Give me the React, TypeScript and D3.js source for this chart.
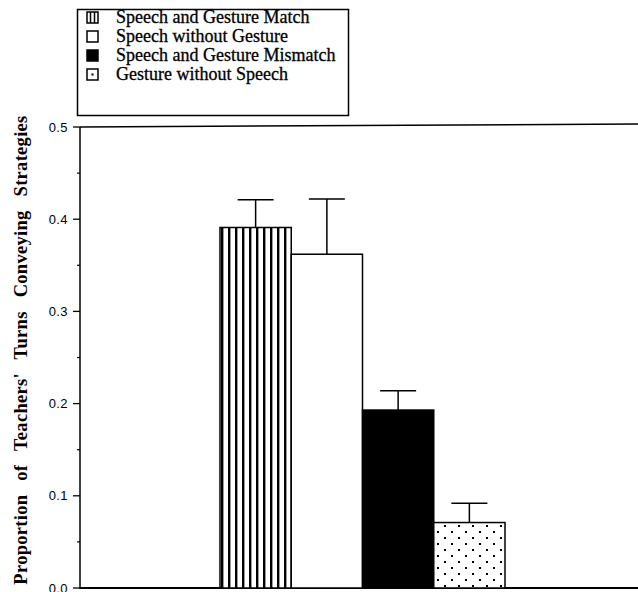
import React from "react";
import * as d3 from "d3";

const categories = [
  "Speech and Gesture Match",
  "Speech without Gesture",
  "Speech and Gesture Mismatch",
  "Gesture without Speech",
];
const values = [0.391, 0.362, 0.193, 0.071];
const errors = [0.03, 0.06, 0.021, 0.021];
const fills = ["url(#stripes)", "#fff", "#000", "url(#dots)"];
const yTicks = [0, 0.1, 0.2, 0.3, 0.4, 0.5];
const yMinorTicks = [0.05, 0.15, 0.25, 0.35, 0.45];
const yLabel = "Proportion of Teachers' Turns Conveying Strategies";

const W = 638;
const H = 592;

export default function App() {
  const y = d3.scaleLinear().domain([0, 0.5]).range([588, 127]);
  const x = d3.scaleBand<string>().domain(categories).range([220, 505]).padding(0);
  const axisX = 80;
  const fmt = d3.format(".1f");
  const serif = "'Liberation Serif', 'Times New Roman', serif";
  const sans = "'Liberation Sans', Arial, sans-serif";

  return (
    <svg
      width={W}
      height={H}
      style={{ position: "absolute", left: 0, top: 0, background: "#fff" }}
    >
      <defs>
        <pattern id="stripes" patternUnits="userSpaceOnUse" width={7} height={10} x={221}>
          <rect width={7} height={10} fill="#fff" />
          <rect x={0} width={2.4} height={10} fill="#000" />
        </pattern>
        <pattern id="dots" patternUnits="userSpaceOnUse" width={14} height={12} x={436} y={2}>
          <rect width={14} height={12} fill="#fff" />
          <rect x={1} y={1} width={2} height={2} fill="#000" />
          <rect x={8} y={7} width={2} height={2} fill="#000" />
        </pattern>
      </defs>

      {/* Legend */}
      <rect x={77.5} y={9.5} width={271} height={106} fill="#fff" stroke="#000" strokeWidth={1.5} />
      {categories.map((c, i) => {
        const base = 23 + i * 19;
        const cy = base - 5.5;
        return (
          <g key={c}>
            <rect
              x={87}
              y={cy - 5.5}
              width={11}
              height={11}
              fill={i === 2 ? "#000" : "#fff"}
              stroke="#000"
              strokeWidth={1.5}
            />
            {i === 0 && (
              <g stroke="#000" strokeWidth={1.5}>
                <line x1={90.5} x2={90.5} y1={cy - 5.5} y2={cy + 5.5} />
                <line x1={94.5} x2={94.5} y1={cy - 5.5} y2={cy + 5.5} />
              </g>
            )}
            {i === 3 && <rect x={91.5} y={cy - 1} width={2} height={2} fill="#000" />}
            <text
              x={116}
              y={base}
              fontFamily={serif}
              fontSize={18}
              fill="#000"
              stroke="#000"
              strokeWidth={0.3}
            >
              {c}
            </text>
          </g>
        );
      })}

      {/* Axes frame */}
      <line x1={axisX} x2={axisX} y1={y(0.5)} y2={y(0) + 1} stroke="#000" strokeWidth={1.5} />
      <line x1={axisX} x2={W} y1={y(0.5)} y2={y(0.5) - 3} stroke="#000" strokeWidth={1.5} />
      <line x1={axisX} x2={W} y1={y(0)} y2={y(0)} stroke="#000" strokeWidth={1.8} />

      {yTicks.map((t) => (
        <g key={t}>
          <line x1={axisX - 7} x2={axisX} y1={y(t)} y2={y(t)} stroke="#000" strokeWidth={1.3} />
          <text
            x={axisX - 12}
            y={y(t) + 4.5}
            textAnchor="end"
            fontFamily={sans}
            fontSize={13}
            letterSpacing={0.4}
            fill="#000"
          >
            {fmt(t)}
          </text>
        </g>
      ))}
      {yMinorTicks.map((t) => (
        <line key={t} x1={axisX - 3} x2={axisX} y1={y(t)} y2={y(t)} stroke="#000" strokeWidth={1.2} />
      ))}

      <text
        transform={`translate(27, 350) rotate(-90)`}
        textAnchor="middle"
        fontFamily={serif}
        fontWeight="bold"
        fontSize={18.5}
        letterSpacing={0.3}
        wordSpacing={9}
        fill="#000"
      >
        {yLabel}
      </text>

      {/* Bars */}
      {categories.map((c, i) => {
        const bx = x(c)!;
        const bw = x.bandwidth();
        const cx = bx + bw / 2;
        return (
          <g key={c}>
            <line x1={cx} x2={cx} y1={y(values[i])} y2={y(values[i] + errors[i])} stroke="#000" strokeWidth={1.5} />
            <line x1={cx - 18} x2={cx + 18} y1={y(values[i] + errors[i])} y2={y(values[i] + errors[i])} stroke="#000" strokeWidth={1.5} />
            <rect
              x={bx}
              y={y(values[i])}
              width={bw}
              height={y(0) - y(values[i])}
              fill={fills[i]}
              stroke="#000"
              strokeWidth={1.5}
            />
          </g>
        );
      })}
    </svg>
  );
}
